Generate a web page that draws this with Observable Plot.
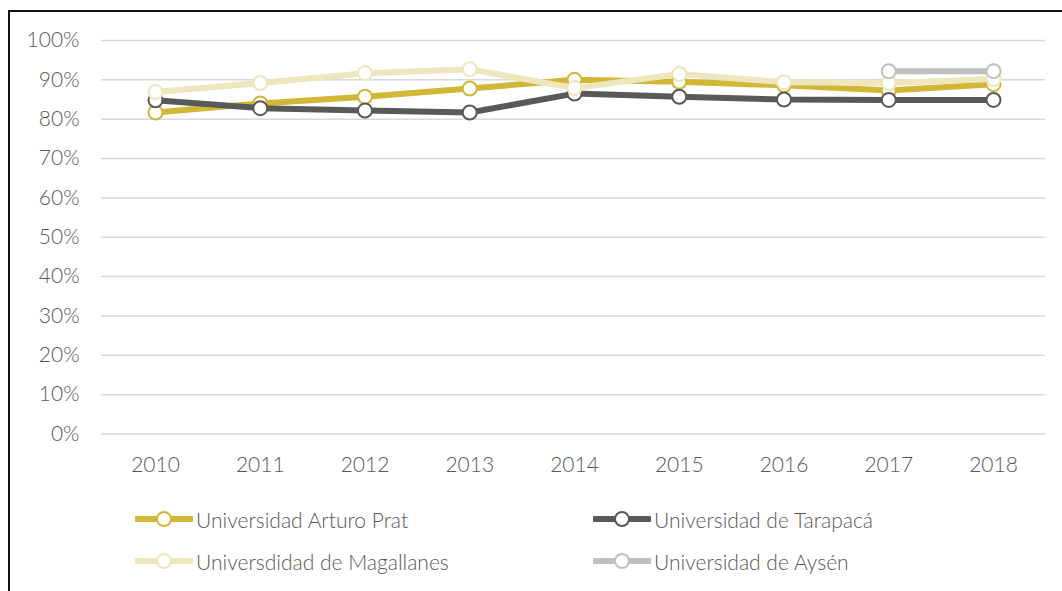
<!DOCTYPE html>
<html>
<head>
<meta charset="utf-8">
<script src="https://cdn.jsdelivr.net/npm/d3@7"></script>
<script src="https://cdn.jsdelivr.net/npm/@observablehq/plot@0.6"></script>
<style>
  html, body { margin: 0; padding: 0; background: #fff; }
  body { width: 1062px; height: 591px; position: relative; overflow: hidden; font-family: Lato, "Open Sans", sans-serif; }
  #frame { position: absolute; left: 8px; top: 10px; width: 2000px; height: 1000px; border-left: 2px solid #111; border-top: 2px solid #111; }
  #chart { position: absolute; left: 0; top: 0; }
  #legend { position: absolute; left: 0; top: 0; }
  .item { position: absolute; display: flex; align-items: center; font-size: 21px; font-weight: 300; color: #595959; white-space: nowrap; }
  .item svg { display: block; margin-right: 3px; }
</style>
</head>
<body>
<div id="frame"></div>
<div id="chart"></div>
<div id="legend"></div>
<script>
const years = [2010, 2011, 2012, 2013, 2014, 2015, 2016, 2017, 2018];
const seriesNames = ["Universidad Arturo Prat", "Universidad de Tarapacá", "Universdidad de Magallanes", "Universidad de Aysén"];
const seriesColors = ["#D2B736", "#595959", "#EEE6BC", "#BFBFBF"];
const arturoPrat = [0.817, 0.840, 0.857, 0.878, 0.900, 0.895, 0.886, 0.873, 0.889];
const tarapaca   = [0.848, 0.828, 0.822, 0.817, 0.865, 0.857, 0.850, 0.849, 0.849];
const magallanes = [0.869, 0.892, 0.917, 0.927, 0.879, 0.915, 0.894, 0.892, 0.902];
const aysen      = [null, null, null, null, null, null, null, 0.922, 0.922];
const yTicks = [0, 0.1, 0.2, 0.3, 0.4, 0.5, 0.6, 0.7, 0.8, 0.9, 1.0];

const seriesValues = [arturoPrat, tarapaca, magallanes, aysen];
const data = [];
seriesNames.forEach((name, i) => {
  years.forEach((yr, j) => {
    if (seriesValues[i][j] != null) data.push({series: name, order: i, year: yr, value: seriesValues[i][j]});
  });
});

const marks = [
  Plot.ruleY(yTicks, {stroke: "#D9D9D9", strokeWidth: 1.5}),
  Plot.axisY(yTicks, {tickFormat: d => Math.round(d * 100) + "%", tickSize: 0, tickPadding: 22, fontSize: 21, fontWeight: 300, fill: "#595959", label: null}),
  Plot.axisX(years, {tickFormat: d => String(d), tickSize: 0, tickPadding: 23, fontSize: 21, fontWeight: 300, fill: "#595959", label: null})
];
seriesNames.forEach((name, i) => {
  const d = data.filter(r => r.order === i);
  marks.push(Plot.line(d, {x: "year", y: "value", stroke: seriesColors[i], strokeWidth: 6, strokeLinejoin: "round"}));
  marks.push(Plot.dot(d, {x: "year", y: "value", r: 7, fill: "white", stroke: seriesColors[i], strokeWidth: 2}));
});

const chart = Plot.plot({
  width: 1062,
  height: 490,
  marginLeft: 101,
  marginRight: 17,
  marginTop: 40,
  marginBottom: 56.5,
  style: {fontFamily: "Lato, 'Open Sans', sans-serif", background: "transparent", overflow: "visible"},
  x: {type: "linear", domain: [2010, 2018], range: [155, 993], label: null},
  y: {domain: [0, 1], label: null},
  marks
});
document.getElementById("chart").appendChild(chart);

const legendPos = [[135, 519], [593, 519], [135, 561], [593, 561]];
const legend = document.getElementById("legend");
seriesNames.forEach((name, i) => {
  const div = document.createElement("div");
  div.className = "item";
  div.style.left = legendPos[i][0] + "px";
  div.style.top = (legendPos[i][1] - 14) + "px";
  div.style.height = "28px";
  div.innerHTML = `<svg width="58" height="20"><line x1="2" y1="10" x2="56" y2="10" stroke="${seriesColors[i]}" stroke-width="6" stroke-linecap="round"/><circle cx="29" cy="10" r="7" fill="white" stroke="${seriesColors[i]}" stroke-width="2"/></svg><span>${name}</span>`;
  legend.appendChild(div);
});
</script>
</body>
</html>
